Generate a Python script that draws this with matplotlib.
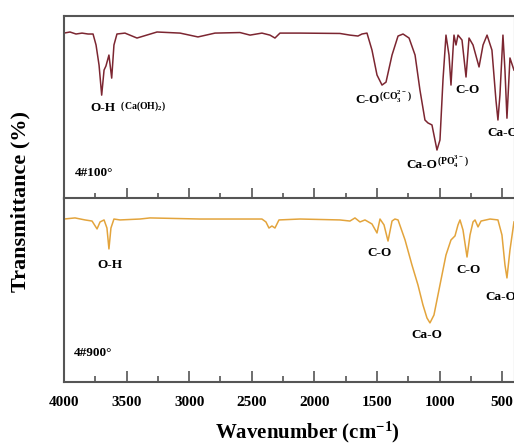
import matplotlib
matplotlib.use('Agg')
import matplotlib.pyplot as plt
from matplotlib.ticker import MultipleLocator

plt.rcParams['font.family'] = 'Liberation Serif'
plt.rcParams['font.weight'] = 'bold'
plt.rcParams['mathtext.fontset'] = 'custom'
plt.rcParams['mathtext.rm'] = 'Liberation Serif'
plt.rcParams['mathtext.bf'] = 'Liberation Serif:bold'

# Espectro 4#100° (número de onda, transmitância)
wn_100 = [4000, 3952, 3904, 3856, 3808, 3768, 3744, 3720, 3699, 3680, 3665, 3641, 3619, 3601,
          3577, 3513, 3417, 3257, 3073, 2930, 2794, 2594, 2514, 2419, 2355, 2315, 2275, 2115,
          1796, 1716, 1652, 1620, 1580, 1540, 1500, 1460, 1428, 1380, 1332, 1292, 1244, 1196,
          1157, 1117, 1093, 1061, 1021, 997, 973, 949, 925, 909, 893, 885, 869, 853, 821, 789,
          765, 733, 685, 653, 621, 582, 550, 534, 518, 494, 478, 462, 438, 406]
t_100 = [90.4, 91.0, 89.9, 90.4, 89.9, 89.9, 83.9, 72.9, 56.5, 70.2, 72.4, 78.4, 65.8, 83.9,
         89.9, 90.4, 87.7, 91.0, 90.4, 88.3, 90.4, 90.7, 89.3, 90.4, 89.3, 87.7, 90.4, 90.4,
         90.2, 89.3, 88.8, 89.9, 90.4, 81.1, 67.5, 62.0, 63.6, 78.4, 88.8, 89.9, 87.7, 78.4,
         59.3, 42.9, 41.3, 40.2, 26.5, 32.0, 64.8, 89.3, 78.4, 62.0, 81.1, 89.3, 83.9, 89.3,
         86.6, 66.4, 87.7, 83.9, 71.9, 83.9, 89.3, 81.1, 53.8, 42.9, 56.6, 89.3, 70.2, 43.9,
         76.8, 70.2]

# Espectro 4#900°
wn_900 = [4000, 3912, 3832, 3776, 3736, 3712, 3680, 3657, 3641, 3625, 3601, 3553, 3393, 3313,
          2914, 2419, 2387, 2363, 2339, 2315, 2283, 2115, 1796, 1716, 1676, 1636, 1596, 1540,
          1500, 1476, 1444, 1412, 1380, 1357, 1332, 1276, 1221, 1173, 1133, 1101, 1077, 1045,
          997, 949, 909, 877, 853, 837, 813, 781, 757, 733, 717, 693, 669, 597, 534, 502, 478,
          462, 438, 406]
t_900 = [88.8, 89.4, 88.3, 87.7, 83.4, 87.2, 88.3, 83.9, 72.5, 83.9, 88.8, 88.3, 88.8, 89.4,
         88.8, 88.8, 87.2, 83.9, 85.0, 83.9, 88.3, 88.8, 88.3, 87.7, 89.4, 87.2, 88.3, 86.1,
         81.2, 88.8, 85.6, 76.8, 87.7, 88.8, 88.3, 77.4, 63.8, 52.9, 42.0, 34.9, 32.2, 36.5,
         52.9, 69.2, 77.4, 79.6, 85.6, 88.3, 82.8, 68.1, 80.1, 87.2, 88.3, 84.5, 87.7, 88.8,
         88.3, 80.1, 63.8, 56.7, 71.9, 87.2]

cor_100 = '#7c2631'
cor_900 = '#e3a43c'
cor_eixo = '#555555'

fig = plt.figure(figsize=(5.14, 4.45), dpi=100)
ax1 = fig.add_axes([0.1245, 0.5539, 0.8769, 0.4112])
ax2 = fig.add_axes([0.1245, 0.1416, 0.8769, 0.4124])

for ax in (ax1, ax2):
    ax.set_xlim(4000, 400)
    ax.set_ylim(0, 100)
    ax.set_yticks([])
    ax.xaxis.set_major_locator(MultipleLocator(500))
    ax.xaxis.set_minor_locator(MultipleLocator(250))
    ax.tick_params(axis='x', which='both', direction='in', color=cor_eixo, width=1.2,
                   labelsize=11, pad=10)
    ax.tick_params(axis='x', which='major', length=8)
    ax.tick_params(axis='x', which='minor', length=4)
    for s in ax.spines.values():
        s.set_color(cor_eixo)
        s.set_linewidth(1.5)

ax1.tick_params(axis='x', labelbottom=False)
ax2.tick_params(axis='x', which='both', bottom=True, top=False)

ax1.plot(wn_100, t_100, color=cor_100, lw=1.1)
ax2.plot(wn_900, t_900, color=cor_900, lw=1.1)

for lab in ax2.get_xticklabels():
    lab.set_fontweight('bold')

fs = 9.5
fs_p = 7

# Anotações do painel superior
t = ax1.text(3688, 49.5, 'O-H', fontsize=fs, ha='center', va='center')
ax1.annotate('  (Ca(OH)$_2$)', xy=(1, 0.1), xycoords=t, fontsize=fs_p, va='bottom', ha='left')
t = ax1.text(1676, 53.8, 'C-O', fontsize=fs, ha='left', va='center')
ax1.annotate('(CO$_3^{2-}$)', xy=(1, 0.1), xycoords=t, fontsize=fs_p, va='bottom', ha='left')
ax1.text(877, 59.3, 'C-O', fontsize=fs, ha='left', va='center')
t = ax1.text(1268, 18.3, 'Ca-O', fontsize=fs, ha='left', va='center')
ax1.annotate('(PO$_4^{3-}$)', xy=(1, 0.1), xycoords=t, fontsize=fs_p, va='bottom', ha='left')
ax1.text(621, 35.8, 'Ca-O', fontsize=fs, ha='left', va='center')
ax1.text(3912, 13.9, '4#100°', fontsize=fs, ha='left', va='center')

# Anotações do painel inferior
ax2.text(3736, 63.8, 'O-H', fontsize=fs, ha='left', va='center')
ax2.text(1580, 70.3, 'C-O', fontsize=fs, ha='left', va='center')
ax2.text(1229, 25.6, 'Ca-O', fontsize=fs, ha='left', va='center')
ax2.text(869, 61.0, 'C-O', fontsize=fs, ha='left', va='center')
ax2.text(637, 46.3, 'Ca-O', fontsize=fs, ha='left', va='center')
ax2.text(3920, 15.8, '4#900°', fontsize=fs, ha='left', va='center')

fig.text(307 / 514, 1 - 432 / 445, r'Wavenumber $\mathregular{(cm^{-1})}$', fontsize=15,
         ha='center', va='center')
fig.text(20 / 514, 1 - 202 / 445, 'Transmittance (%)', fontsize=16, rotation=90,
         ha='center', va='center')

fig.savefig('out.png', dpi=100)
